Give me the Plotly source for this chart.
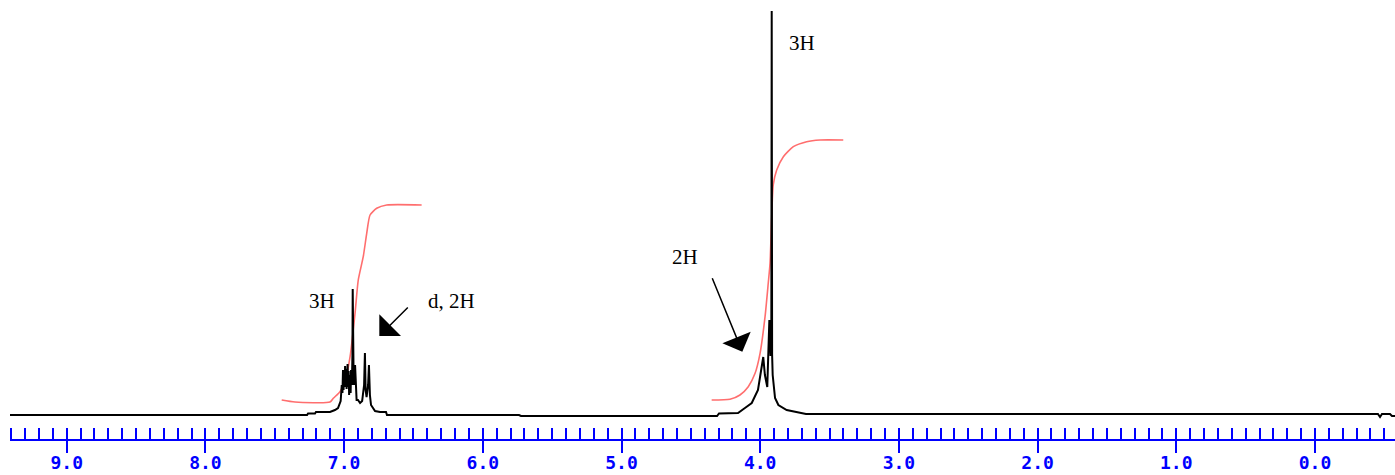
import plotly.graph_objects as go

# ---- Spectrum (chemical shift in ppm, intensity in arbitrary units) ----
spec_ppm = [9.41, 7.267, 7.260, 7.210, 7.203, 7.102, 7.066, 7.044, 7.025, 7.017,
            7.012, 7.008, 7.004, 7.000, 6.996, 6.993, 6.989, 6.986, 6.982, 6.978,
            6.975, 6.971, 6.967, 6.964, 6.960, 6.957, 6.953, 6.950, 6.944, 6.940,
            6.938, 6.935, 6.931, 6.928, 6.924, 6.921, 6.916, 6.910, 6.900,
            6.885, 6.870, 6.856, 6.850, 6.845, 6.838, 6.827, 6.821, 6.814, 6.806,
            6.777, 6.741, 6.698, 6.691, 5.739,
            5.725, 4.311, 4.297, 4.160, 4.110, 4.061, 4.016, 3.989, 3.978, 3.966, 3.949,
            3.934, 3.926, 3.920, 3.917, 3.914, 3.910, 3.893, 3.869, 3.809, 3.737, 3.677,
            3.670, -0.454, -0.469, -0.483, -0.541, -0.555, -0.577]
spec_int = [0, 0, 1.5, 1.5, 3, 3, 5, 7, 14, 30,
            22, 45, 25, 42, 28, 49, 30, 46, 26, 50,
            51, 28, 44, 20, 38, 40, 22, 45, 30, 60,
            126, 60, 30, 35, 30, 50, 25, 15, 15,
            12, 14, 30, 62, 25, 18, 30, 50, 20, 10,
            4, 3, 3, 0, 0,
            -1, -1, 1.5, 2, 7, 12, 25, 48, 58, 40, 28,
            95, 60, 60, 404, 60, 40, 17, 10, 5, 3, 1,
            1, 1, -2, 1, 1, -1, -1]

# ---- Integral curves ----
int1_ppm = [7.450, 7.354, 7.102, 7.078, 7.030, 6.994, 6.957, 6.921, 6.898, 6.862,
            6.837, 6.813, 6.765, 6.693, 6.441]
int1_val = [15, 13, 13, 16.7, 23.3, 33.3, 58.3, 102, 135, 158.3,
            181.7, 200, 206.7, 210, 210]
int2_ppm = [4.350, 4.218, 4.146, 4.086, 4.037, 4.001, 3.965, 3.942, 3.929, 3.917,
            3.906, 3.881, 3.833, 3.761, 3.665, 3.569, 3.401]
int2_val = [15, 15.7, 20, 28.3, 41.7, 61.7, 98.3, 131.7, 151.7, 198.3,
            230, 245, 258.3, 268.3, 273.3, 275, 275]

# ---- Labels ----
label_text = ["3H", "d, 2H", "2H", "3H"]
label_ppm = [7.159, 6.229, 4.542, 3.701]
label_int = [114, 114, 158.5, 372]

arrow_tail_ppm = [6.530, 4.350]
arrow_tail_int = [109, 138.3]
arrow_tip_ppm = [6.746, 4.129]
arrow_tip_int = [79, 63.3]

tick_vals = [9, 8, 7, 6, 5, 4, 3, 2, 1, 0]
tick_text = ["9.0", "8.0", "7.0", "6.0", "5.0", "4.0", "3.0", "2.0", "1.0", "0.0"]

X_RANGE = [9.409, -0.577]
BLUE = "#0000ff"

fig = go.Figure()
fig.add_trace(go.Scatter(x=int1_ppm, y=int1_val, mode="lines",
                         line=dict(color="#ff6e6e", width=1.6, shape="spline", smoothing=0.6),
                         hoverinfo="skip", showlegend=False))
fig.add_trace(go.Scatter(x=int2_ppm, y=int2_val, mode="lines",
                         line=dict(color="#ff6e6e", width=1.6, shape="spline", smoothing=0.6),
                         hoverinfo="skip", showlegend=False))
fig.add_trace(go.Scatter(x=spec_ppm, y=spec_int, mode="lines",
                         line=dict(color="black", width=2),
                         hoverinfo="skip", showlegend=False))

for t, x, y in zip(label_text, label_ppm, label_int):
    fig.add_annotation(x=x, y=y, text=t, showarrow=False,
                       font=dict(family="Liberation Serif", size=21, color="black"),
                       xanchor="center", yanchor="middle")

for tx, ty, hx, hy in zip(arrow_tail_ppm, arrow_tail_int, arrow_tip_ppm, arrow_tip_int):
    fig.add_annotation(x=hx, y=hy, ax=tx, ay=ty, axref="x", ayref="y", xref="x", yref="y",
                       text="", showarrow=True, arrowhead=1, arrowsize=3.4,
                       arrowwidth=1.5, arrowcolor="black", standoff=0)

fig.update_layout(
    width=1395, height=475,
    margin=dict(l=10, r=0, t=0, b=36, autoexpand=False),
    paper_bgcolor="white", plot_bgcolor="white",
    xaxis=dict(range=X_RANGE, showgrid=False, zeroline=False, automargin=False,
               showline=True, linecolor=BLUE, linewidth=2,
               ticks="inside", ticklen=11, tickwidth=2, tickcolor=BLUE,
               tickvals=tick_vals, ticktext=tick_text, ticklabelstandoff=6,
               tickfont=dict(family="DejaVu Sans Mono", size=18, color=BLUE, weight="bold"),
               minor=dict(ticks="inside", ticklen=11, tickwidth=2, tickcolor=BLUE,
                          dtick=0.1, tick0=0, showgrid=False)),
    xaxis2=dict(range=X_RANGE, overlaying="x", matches="x", showgrid=False, zeroline=False,
                automargin=False, showline=False, ticks="outside", ticklen=13, tickwidth=2,
                tickcolor=BLUE, tickvals=tick_vals, showticklabels=False,
                side="bottom", anchor="y"),
    yaxis=dict(range=[-24, 415], visible=False, showgrid=False, zeroline=False,
               automargin=False),
)
# invisible trace to activate xaxis2
fig.add_trace(go.Scatter(x=[5], y=[0], xaxis="x2", mode="markers",
                         marker=dict(opacity=0), hoverinfo="skip", showlegend=False))

fig.write_html("out.html", config={"displayModeBar": False},
               post_script="document.body.style.margin='0';document.body.style.overflow='hidden';")
